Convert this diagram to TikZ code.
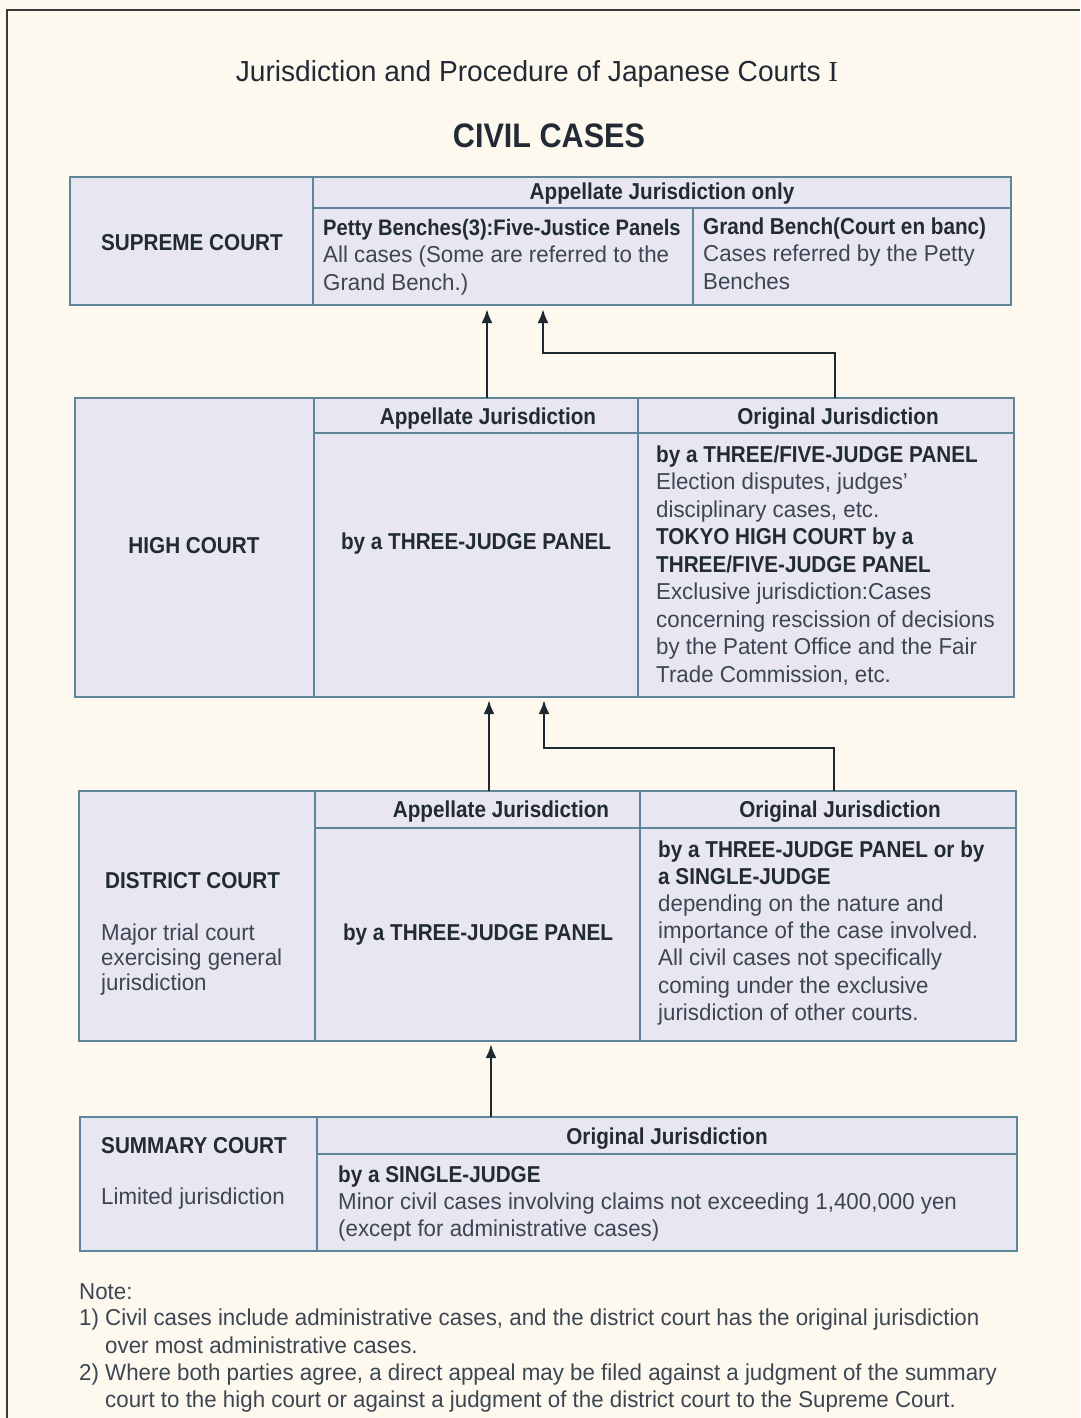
\documentclass[tikz,border=0pt]{standalone}
\usepackage{fontspec}
\setmainfont{Liberation Sans}[FakeStretch=0.97]
\newfontfamily\lblfont{Liberation Sans}[FakeStretch=0.9]
\newfontfamily\romanI{Liberation Serif}
\usetikzlibrary{arrows.meta}
\definecolor{bg}{HTML}{FEF9EF}
\definecolor{boxfill}{HTML}{E7E6F1}
\definecolor{border}{HTML}{5E8598}
\definecolor{arrowcol}{HTML}{1E2830}
\definecolor{labelcol}{HTML}{222B35}
\definecolor{desccol}{HTML}{3C4652}
\definecolor{framecol}{HTML}{3A3A3A}
\newcommand{\lb}{\lblfont\bfseries\color{labelcol}}
\begin{document}
\begin{tikzpicture}[x=1pt,y=-1pt,
  court/.style={draw=border, line width=2pt, fill=boxfill, rectangle, inner sep=0pt, outer sep=0pt, anchor=north west},
  divider/.style={draw=border, line width=1.5pt},
  lbl/.style={font=\lblfont\bfseries\fontsize{23}{27}\selectfont, text=labelcol, inner sep=0pt},
  desc/.style={font=\fontsize{23}{27}\selectfont, text=desccol, inner sep=0pt},
  note/.style={font=\fontsize{23}{27}\selectfont, text=desccol, inner sep=0pt, anchor=base west},
  arr/.style={draw=arrowcol, line width=2.6pt, -{Latex[length=14pt,width=11pt]}},
  frame/.style={draw=framecol, line width=1.5pt}]
\fill[bg] (0,0) rectangle (1080,1418);
\useasboundingbox (0,0) rectangle (1080,1418);
\draw[frame] (7,1418) -- (7,10) -- (1080,10);

% titles
\node[font=\fontsize{29}{32}\selectfont, text=labelcol, inner sep=0pt, anchor=base] (title) at (537,82) {Jurisdiction and Procedure of Japanese Courts {\romanI I}};
\node[font=\lblfont\bfseries\fontsize{34}{37}\selectfont, text=labelcol, inner sep=0pt, anchor=base] (civil) at (549,147) {CIVIL CASES};

% ---------- SUPREME COURT ----------
\node[court, minimum width=941pt, minimum height=128pt] (sup) at (70,177) {};
\draw[divider] (313,177) -- (313,305);
\draw[divider] (313,208) -- (1011,208);
\draw[divider] (693,208) -- (693,305);
\node[lbl, anchor=base] (supname) at (192,250) {SUPREME COURT};
\node[lbl, anchor=base] (suphead) at (662,199) {Appellate Jurisdiction only};
\foreach \t [count=\i from 0] in {{\lb\fontsize{22.4}{27}\selectfont Petty Benches(3):Five-Justice Panels}, {All cases (Some are referred to the}, {Grand Bench.)}}
  \node[desc, anchor=base west] (supl\i) at (323,235+27.5*\i) {\t};
\foreach \t [count=\i from 0] in {{\lb Grand Bench(Court en banc)}, {Cases referred by the Petty}, {Benches}}
  \node[desc, anchor=base west] (supr\i) at (703,234+27.5*\i) {\t};

% ---------- HIGH COURT ----------
\node[court, minimum width=939pt, minimum height=299pt] (high) at (75,398) {};
\draw[divider] (314,398) -- (314,697);
\draw[divider] (314,433) -- (1014,433);
\draw[divider] (638,398) -- (638,697);
\node[lbl, anchor=base] (highname) at (194,553) {HIGH COURT};
\node[lbl, anchor=base] (highapp) at (488,424) {Appellate Jurisdiction};
\node[lbl, anchor=base] (highorig) at (838,424) {Original Jurisdiction};
\node[lbl, anchor=base] (highpanel) at (476,549) {by a THREE-JUDGE PANEL};
\foreach \t [count=\i from 0] in {{\lb by a THREE/FIVE-JUDGE PANEL}, {Election disputes, judges'}, {disciplinary cases, etc.}, {\lb TOKYO HIGH COURT by a}, {\lb THREE/FIVE-JUDGE PANEL}, {Exclusive jurisdiction:Cases}, {concerning rescission of decisions}, {by the Patent Office and the Fair}, {Trade Commission, etc.}}
  \node[desc, anchor=base west] (highr\i) at (656,462+27.5*\i) {\t};

% ---------- DISTRICT COURT ----------
\node[court, minimum width=937pt, minimum height=250pt] (dist) at (79,791) {};
\draw[divider] (315,791) -- (315,1041);
\draw[divider] (315,828) -- (1016,828);
\draw[divider] (640,791) -- (640,1041);
\node[lbl, anchor=base west] (distname) at (105,888) {DISTRICT COURT};
\foreach \t [count=\i from 0] in {{Major trial court}, {exercising general}, {jurisdiction}}
  \node[desc, anchor=base west] (distl\i) at (101,940+25*\i) {\t};
\node[lbl, anchor=base] (distapp) at (501,817) {Appellate Jurisdiction};
\node[lbl, anchor=base] (distorig) at (840,817) {Original Jurisdiction};
\node[lbl, anchor=base] (distpanel) at (478,940) {by a THREE-JUDGE PANEL};
\foreach \t [count=\i from 0] in {{\lb by a THREE-JUDGE PANEL or by}, {\lb a SINGLE-JUDGE}, {depending on the nature and}, {importance of the case involved.}, {All civil cases not specifically}, {coming under the exclusive}, {jurisdiction of other courts.}}
  \node[desc, anchor=base west] (distr\i) at (658,857+27.2*\i) {\t};

% ---------- SUMMARY COURT ----------
\node[court, minimum width=937pt, minimum height=134pt] (summ) at (80,1117) {};
\draw[divider] (317,1117) -- (317,1251);
\draw[divider] (317,1154) -- (1017,1154);
\node[lbl, anchor=base west] (summname) at (101,1153) {SUMMARY COURT};
\node[desc, anchor=base west] (summlim) at (101,1204) {Limited jurisdiction};
\node[lbl, anchor=base] (summorig) at (667,1144) {Original Jurisdiction};
\foreach \t [count=\i from 0] in {{\lb by a SINGLE-JUDGE}, {Minor civil cases involving claims not exceeding 1,400,000 yen}, {(except for administrative cases)}}
  \node[desc, anchor=base west] (summr\i) at (338,1182+27.2*\i) {\t};

% ---------- ARROWS ----------
\coordinate (s1) at (487,309);
\coordinate (h1) at (487,398);
\coordinate (s2) at (543,309);
\coordinate (k1) at (543,353);
\coordinate (h2) at (835,398);
\draw[arr] (h1) -- (s1);
\draw[arr] (h2) |- (k1) -- (s2);

\coordinate (hb1) at (489,700);
\coordinate (d1) at (489,791);
\coordinate (hb2) at (544,700);
\coordinate (k2) at (544,748);
\coordinate (d2) at (834,791);
\draw[arr] (d1) -- (hb1);
\draw[arr] (d2) |- (k2) -- (hb2);

\coordinate (db1) at (491,1044);
\coordinate (m1) at (491,1117);
\draw[arr] (m1) -- (db1);

% ---------- NOTES ----------
\node[note] (note0) at (79,1299) {Note:};
\node[note] (note1) at (79,1325) {1) Civil cases include administrative cases, and the district court has the original jurisdiction};
\node[note] (note2) at (105,1353) {over most administrative cases.};
\node[note] (note3) at (79,1380) {2) Where both parties agree, a direct appeal may be filed against a judgment of the summary};
\node[note] (note4) at (105,1407) {court to the high court or against a judgment of the district court to the Supreme Court.};
\end{tikzpicture}
\end{document}
